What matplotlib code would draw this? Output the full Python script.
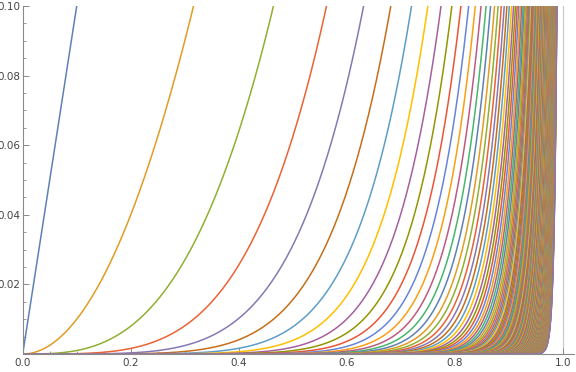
import numpy as np
import matplotlib
matplotlib.use("Agg")
import matplotlib.pyplot as plt
from matplotlib.ticker import MultipleLocator

# curves y = x^n for these exponents
exponents = list(range(1, 201))

# Mathematica default plot colours (ColorData 97)
colors = ["#5E81B5", "#E19C24", "#8FB032", "#EB6235", "#8778B3",
          "#C56E1A", "#5D9EC7", "#FFBF00", "#A5609D", "#929600",
          "#E95536", "#6685D9", "#F89F13", "#BC5B80", "#47B66D"]

x_ticks = [0.0, 0.2, 0.4, 0.6, 0.8, 1.0]
x_labels = ["0.0", "0.2", "0.4", "0.6", "0.8", "1.0"]
y_ticks = [0.02, 0.04, 0.06, 0.08, 0.10]
y_labels = ["0.02", "0.04", "0.06", "0.08", "0.10"]

W, H = 576, 372
fig = plt.figure(figsize=(W / 100, H / 100), dpi=100)

# x = 0 at px 22.7, x = 1 at px 563 ; y = 0 at px 354, y = 0.1 at px 6
x0, x1 = 22.7, 563.0
xmax = (574 - x0) / (x1 - x0)
ax = fig.add_axes([x0 / W, (H - 354) / H, (574 - x0) / W, (354 - 6) / H])

x = np.linspace(0, 1, 6000)
for i, n in enumerate(exponents):
    ax.plot(x, x ** n, color=colors[i % len(colors)], lw=1.1,
            solid_capstyle="butt", clip_on=True)

ax.axvline(1.0, color="#c8c8c8", lw=0.8, zorder=0)

ax.set_xlim(0, xmax)
ax.set_ylim(0, 0.1)

for s in ["top", "right"]:
    ax.spines[s].set_visible(False)
for s in ["left", "bottom"]:
    ax.spines[s].set_color("#8a8a8a")
    ax.spines[s].set_linewidth(0.8)

ax.set_xticks(x_ticks)
ax.set_xticklabels(x_labels)
ax.set_yticks(y_ticks)
ax.set_yticklabels(y_labels)
ax.xaxis.set_minor_locator(MultipleLocator(0.05))
ax.yaxis.set_minor_locator(MultipleLocator(0.005))
ax.tick_params(which="major", direction="in", length=4, width=0.7,
               color="#8a8a8a", labelcolor="#444444", labelsize=7.5, pad=3)
ax.tick_params(which="minor", direction="in", length=2.3, width=0.6,
               color="#8a8a8a")
ax.tick_params(axis="y", pad=2)

fig.savefig("out.png", dpi=100)
